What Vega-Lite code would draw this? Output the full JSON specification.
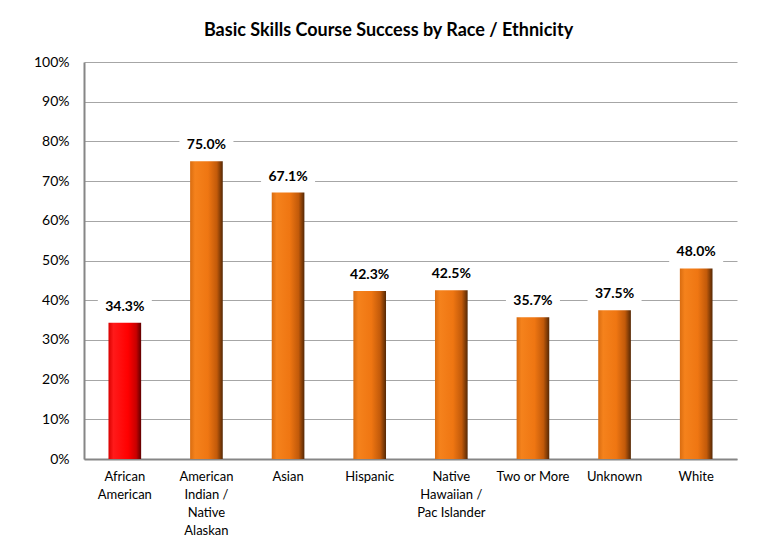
{
  "$schema": "https://vega.github.io/schema/vega-lite/v6.json",
  "width": 653,
  "height": 397,
  "autosize": "none",
  "padding": {"left": 84, "top": 62, "right": 22, "bottom": 89},
  "background": "white",
  "title": {
    "text": "Basic Skills Course Success by Race / Ethnicity",
    "font": "Lato",
    "fontSize": 18,
    "fontWeight": "bold",
    "color": "black",
    "anchor": "middle",
    "dx": -22,
    "offset": 15
  },
  "config": {"view": {"stroke": null}},
  "data": {
    "values": [
      {"group": "African American", "rate": 0.343},
      {"group": "American Indian / Native Alaskan", "rate": 0.75},
      {"group": "Asian", "rate": 0.671},
      {"group": "Hispanic", "rate": 0.423},
      {"group": "Native Hawaiian / Pac Islander", "rate": 0.425},
      {"group": "Two or More", "rate": 0.357},
      {"group": "Unknown", "rate": 0.375},
      {"group": "White", "rate": 0.48}
    ]
  },
  "encoding": {
    "x": {
      "field": "group",
      "type": "nominal",
      "sort": null,
      "scale": {"paddingInner": 0.6, "paddingOuter": 0.3},
      "axis": {
        "title": null,
        "labelAngle": 0,
        "labelFont": "Lato",
        "labelFontSize": 13,
        "labelColor": "black",
        "labelPadding": 11,
        "labelLineHeight": 18,
        "labelBaseline": "top",
        "ticks": false,
        "domainColor": "#868686",
        "domainWidth": 2,
        "labelExpr": "datum.value == 'African American' ? ['African','American'] : datum.value == 'American Indian / Native Alaskan' ? ['American','Indian /','Native','Alaskan'] : datum.value == 'Native Hawaiian / Pac Islander' ? ['Native','Hawaiian /','Pac Islander'] : datum.value"
      }
    },
    "y": {
      "field": "rate",
      "type": "quantitative",
      "scale": {"domain": [0, 1], "nice": false},
      "axis": {
        "title": null,
        "values": [0, 0.1, 0.2, 0.3, 0.4, 0.5, 0.6, 0.7, 0.8, 0.9, 1],
        "format": ".0%",
        "grid": true,
        "gridColor": "#a6a6a6",
        "gridWidth": 1,
        "ticks": false,
        "domainColor": "#868686",
        "domainWidth": 2,
        "labelFont": "Lato",
        "labelFontSize": 14,
        "labelColor": "black",
        "labelPadding": 15
      }
    }
  },
  "layer": [
    {
      "transform": [{"filter": "datum.group == 'African American'"}],
      "mark": {
        "type": "bar",
        "fill": {
          "gradient": "linear", "x1": 0, "y1": 0, "x2": 1, "y2": 0,
          "stops": [
            {"offset": 0, "color": "#d80000"},
            {"offset": 0.15, "color": "#ff1a1a"},
            {"offset": 0.6, "color": "#ff0000"},
            {"offset": 0.85, "color": "#c80000"},
            {"offset": 1, "color": "#5e0000"}
          ]
        }
      }
    },
    {
      "transform": [{"filter": "datum.group != 'African American'"}],
      "mark": {
        "type": "bar",
        "fill": {
          "gradient": "linear", "x1": 0, "y1": 0, "x2": 1, "y2": 0,
          "stops": [
            {"offset": 0, "color": "#d96c10"},
            {"offset": 0.15, "color": "#f5821c"},
            {"offset": 0.55, "color": "#ef7612"},
            {"offset": 0.82, "color": "#c25a0a"},
            {"offset": 1, "color": "#552805"}
          ]
        }
      }
    },
    {
      "mark": {
        "type": "point",
        "shape": "M-1,-0.37H1V0.37H-1Z",
        "size": 2916,
        "filled": true,
        "fill": "white",
        "opacity": 1,
        "strokeWidth": 0,
        "yOffset": -16
      }
    },
    {
      "mark": {
        "type": "text",
        "font": "Lato",
        "fontSize": 14,
        "fontWeight": "bold",
        "color": "black",
        "baseline": "middle",
        "dy": -16
      },
      "encoding": {"text": {"field": "rate", "type": "quantitative", "format": ".1%"}}
    }
  ]
}
